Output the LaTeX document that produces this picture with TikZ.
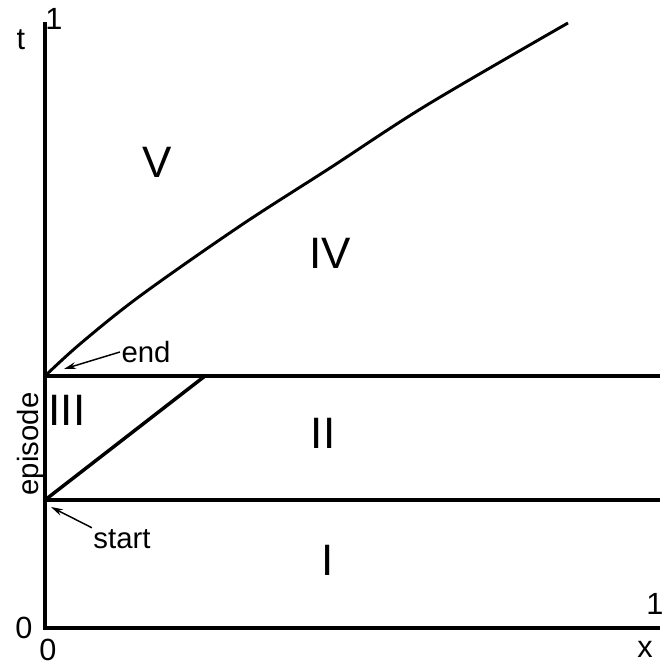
\documentclass[tikz,border=0pt]{standalone}
\usepackage{fontspec}
\setmainfont{Liberation Sans}
\usetikzlibrary{arrows.meta}
\begin{document}
\begin{tikzpicture}[x=0.75pt,y=0.75pt,
  axis/.style={line width=3pt},
  bound/.style={line width=2.6pt},
  region/.style={font=\fontsize{33}{33}\selectfont},
  tag/.style={font=\fontsize{22}{22}\selectfont,inner sep=1pt},
  ticklab/.style={font=\fontsize{23}{23}\selectfont,inner sep=0pt},
  pointer/.style={line width=1.1pt,-{Stealth[length=9pt,width=5pt]}}]
\useasboundingbox (0,0) rectangle (668,666);
\coordinate (O) at (45,38);
\coordinate (T) at (45,644);
\coordinate (X) at (660,38);
\coordinate (start) at (45,166);
\coordinate (end) at (45,290);
\coordinate (startR) at (660,166);
\coordinate (endR) at (660,290);
\coordinate (diagR) at (205,290);
\draw[axis] (T) -- (O) -- (X);
\draw[bound] (start) -- (startR);
\draw[bound] (end) -- (endR);
\draw[bound] (start) -- (diagR);
\draw[line width=2.2pt] plot[smooth,tension=0.55] coordinates
  {(45,290) (80,322) (140,370) (240,440) (330,498) (427,561) (568,643)};
\node[ticklab] (tlab) at (21,626) {t};
\node[ticklab] (tone) at (54,647) {1};
\node[ticklab] (yzero) at (24,38) {0};
\node[ticklab] (xzero) at (48,16) {0};
\node[ticklab] (xone) at (655,62) {1};
\node[ticklab] (xlab) at (645,17) {x};
\node[region] (rV) at (157,504) {V};
\node[region] (rIV) at (330,413) {IV};
\node[region] (rIII) at (67,256) {III};
\node[region] (rII) at (323,233) {II};
\node[region] (rI) at (328,106) {I};
\node[tag,rotate=90] (episode) at (31,222) {episode};
\node[tag] (endlab) at (146,314) {end};
\node[tag] (startlab) at (122,127) {start};
\coordinate (endtip) at (64,297);
\coordinate (starttip) at (51,159);
\draw[pointer] (endlab.west) -- (endtip);
\draw[pointer] (startlab.north west) -- (starttip);
\end{tikzpicture}
\end{document}
